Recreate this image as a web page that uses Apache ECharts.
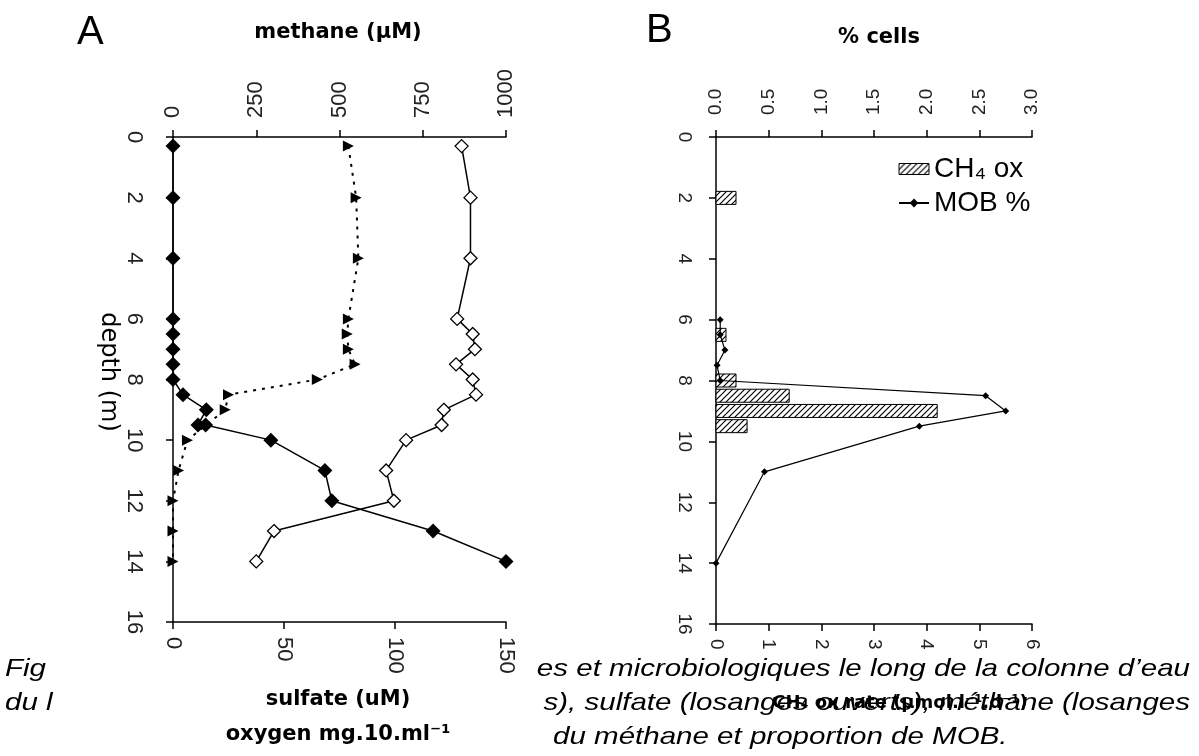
<!DOCTYPE html>
<html>
<head>
<meta charset="utf-8">
<title>profils lac</title>
<script src="https://cdn.jsdelivr.net/npm/echarts@6/dist/echarts.min.js"></script>
<style>
  html, body { margin: 0; padding: 0; background: #fff; }
  #chart { width: 1199px; height: 756px; }
</style>
</head>
<body>
<div id="chart"></div>
<script>
// ---- panel A : profils (profondeur en m)
var depthA = [0.3, 2, 4, 6, 6.5, 7, 7.5, 8, 8.5, 9, 9.5, 10, 11, 12, 13, 14];
var sulfate = [130, 134, 134, 128, 135, 136, 127.5, 135, 136.5, 122, 121, 105, 96, 99.5, 45.5, 37.5];
var methaneDepth = [0.3, 2, 4, 6, 6.5, 7, 7.5, 8, 8.5, 9, 9.5, 9.5, 10, 11, 12, 13, 14];
var methane = [0, 0, 0, 0, 0, 0, 0, 0, 30, 100, 75, 98, 294, 456, 477, 781, 1000];
var oxygenDepth = [0.3, 2, 4, 6, 6.5, 7, 7.5, 8, 8.5, 9, 10, 11, 12, 13, 14];
var oxygen = [79, 82.5, 83.5, 79, 78.5, 79, 82, 65, 25, 23.5, 6.5, 2.5, 0, 0, 0];

// ---- panel B : oxydation du methane et MOB
var rateDepth = [2, 6.5, 8, 8.5, 9, 9.5];
var ch4OxRate = [0.38, 0.19, 0.38, 1.39, 4.2, 0.59];
var mobDepth = [6, 6.5, 7, 7.5, 8, 8.5, 9, 9.5, 11, 14];
var mobPct = [0.04, 0.04, 0.085, 0.01, 0.04, 2.56, 2.75, 1.93, 0.46, 0];

function pairs(xs, ys) {
  return xs.map(function (x, i) { return [x, ys[i]]; });
}

// motif hachuré des barres
function hatch() {
  var c = document.createElement('canvas');
  c.width = 6; c.height = 6;
  var g = c.getContext('2d');
  g.fillStyle = '#fff'; g.fillRect(0, 0, 6, 6);
  g.strokeStyle = '#000'; g.lineWidth = 1.2;
  g.beginPath();
  g.moveTo(0, 6); g.lineTo(6, 0);
  g.moveTo(-1, 1); g.lineTo(1, -1);
  g.moveTo(5, 7); g.lineTo(7, 5);
  g.stroke();
  return c;
}
var hatchFill = { image: hatch(), repeat: 'repeat' };

function axisStyle(fontSize, margin, fmt) {
  return {
    axisLine: { show: true, onZero: false, lineStyle: { color: '#000', width: 1.5 } },
    axisTick: { show: true, length: 7, lineStyle: { color: '#000', width: 1.5 } },
    splitLine: { show: false },
    axisLabel: {
      rotate: -90, fontSize: fontSize, margin: margin, color: '#222', fontFamily: 'Liberation Sans',
      formatter: fmt || function (v) { return String(v); }
    }
  };
}

function txt(text, x, y, st, el) {
  var style = Object.assign({
    text: text, fill: '#000', fontFamily: 'Liberation Sans', fontSize: 20,
    textAlign: 'center', align: 'center', textVerticalAlign: 'middle', verticalAlign: 'middle'
  }, st || {});
  return Object.assign({ type: 'text', x: x, y: y, style: style }, el || {});
}
var bold = { fontFamily: 'DejaVu Sans', fontWeight: 'bold', fontSize: 21 };
var cap = { fontStyle: 'italic', fontSize: 24, textAlign: 'left', align: 'left' };
var capR = { fontStyle: 'italic', fontSize: 24, textAlign: 'right', align: 'right' };

var myChart = echarts.init(document.getElementById('chart'));
myChart.setOption({
  animation: false,
  backgroundColor: '#fff',
  grid: [
    { left: 173, top: 137, width: 333, height: 485 },
    { left: 716, top: 137, width: 316, height: 487 }
  ],
  xAxis: [
    Object.assign({ gridIndex: 0, type: 'value', position: 'top', min: 0, max: 1000, interval: 250 }, axisStyle(22, 19)),
    Object.assign({ gridIndex: 0, type: 'value', position: 'bottom', min: 0, max: 150, interval: 50 }, axisStyle(22, 15)),
    Object.assign({ gridIndex: 1, type: 'value', position: 'top', min: 0, max: 3, interval: 0.5 },
      axisStyle(19, 22, function (v) { return v.toFixed(1); })),
    Object.assign({ gridIndex: 1, type: 'value', position: 'bottom', min: 0, max: 6, interval: 1 }, axisStyle(19, 15))
  ],
  yAxis: [
    Object.assign({ gridIndex: 0, type: 'value', inverse: true, min: 0, max: 16, interval: 2 }, axisStyle(22, 28)),
    Object.assign({ gridIndex: 1, type: 'value', inverse: true, min: 0, max: 16, interval: 2 }, axisStyle(19, 22))
  ],
  legend: {
    left: 893, top: 150, orient: 'vertical',
    itemWidth: 30, itemHeight: 11, itemGap: 6,
    textStyle: { fontSize: 28, color: '#000', fontFamily: 'Liberation Sans' },
    data: [
      { name: 'CH₄ ox', icon: 'rect', itemStyle: { borderColor: '#000', borderWidth: 1 } },
      { name: 'MOB %' }
    ]
  },
  graphic: [
    txt('A', 77, 33, { fontSize: 40, textAlign: 'left', align: 'left' }),
    txt('B', 646, 31, { fontSize: 40, textAlign: 'left', align: 'left' }),
    txt('methane (µM)', 338, 33, bold),
    txt('% cells', 879, 38, bold),
    txt('depth (m)', 108, 372, { fontFamily: 'DejaVu Sans', fontSize: 24 }, { rotation: -Math.PI / 2 }),
    // légende du document (partiellement recouverte)
    txt('Fig', 5, 669, cap, { scaleX: 1.23 }),
    txt('es et microbiologiques le long de la colonne d’eau', 1190, 669, capR, { scaleX: 1.23 }),
    txt('du l', 5, 703, cap, { scaleX: 1.23 }),
    txt('s), sulfate (losanges ouverts), méthane (losanges', 1190, 703, capR, { scaleX: 1.23 }),
    txt('du méthane et proportion de MOB.', 553, 737, cap, { scaleX: 1.23 }),
    txt('sulfate (uM)', 338, 700, bold),
    txt('oxygen mg.10.ml⁻¹', 338, 735, bold),
    txt('CH₄ ox rate (µmol.l⁻¹.d⁻¹)', 900, 703, Object.assign({}, bold, { fontSize: 18 }))
  ],
  series: [
    {
      name: 'methane', type: 'line', xAxisIndex: 0, yAxisIndex: 0,
      data: pairs(methane, methaneDepth),
      symbol: 'diamond', symbolSize: 15,
      lineStyle: { color: '#000', width: 1.5 },
      itemStyle: { color: '#000' }
    },
    {
      name: 'sulfate', type: 'line', xAxisIndex: 1, yAxisIndex: 0,
      data: pairs(sulfate, depthA),
      symbol: 'diamond', symbolSize: 13,
      lineStyle: { color: '#000', width: 1.5 },
      itemStyle: { color: '#fff', borderColor: '#000', borderWidth: 1.3 }
    },
    {
      name: 'oxygen', type: 'line', xAxisIndex: 1, yAxisIndex: 0,
      data: pairs(oxygen, oxygenDepth),
      symbol: 'triangle', symbolRotate: -90, symbolSize: 11,
      lineStyle: { color: '#000', width: 2, type: [3, 6] },
      itemStyle: { color: '#000' }
    },
    {
      name: 'CH₄ ox', type: 'custom', xAxisIndex: 3, yAxisIndex: 1,
      data: pairs(ch4OxRate, rateDepth),
      encode: { x: 0, y: 1 },
      itemStyle: { color: hatchFill, borderColor: '#000', borderWidth: 1 },
      renderItem: function (params, api) {
        var a = api.coord([0, api.value(1)]);
        var b = api.coord([api.value(0), api.value(1)]);
        return {
          type: 'rect',
          shape: { x: a[0], y: a[1] - 6.5, width: b[0] - a[0], height: 13 },
          style: { fill: hatchFill, stroke: '#000', lineWidth: 1 }
        };
      }
    },
    {
      name: 'MOB %', type: 'line', xAxisIndex: 2, yAxisIndex: 1,
      data: pairs(mobPct, mobDepth),
      symbol: 'diamond', symbolSize: 7,
      lineStyle: { color: '#000', width: 1.2 },
      itemStyle: { color: '#000' }
    }
  ]
});
</script>
</body>
</html>
